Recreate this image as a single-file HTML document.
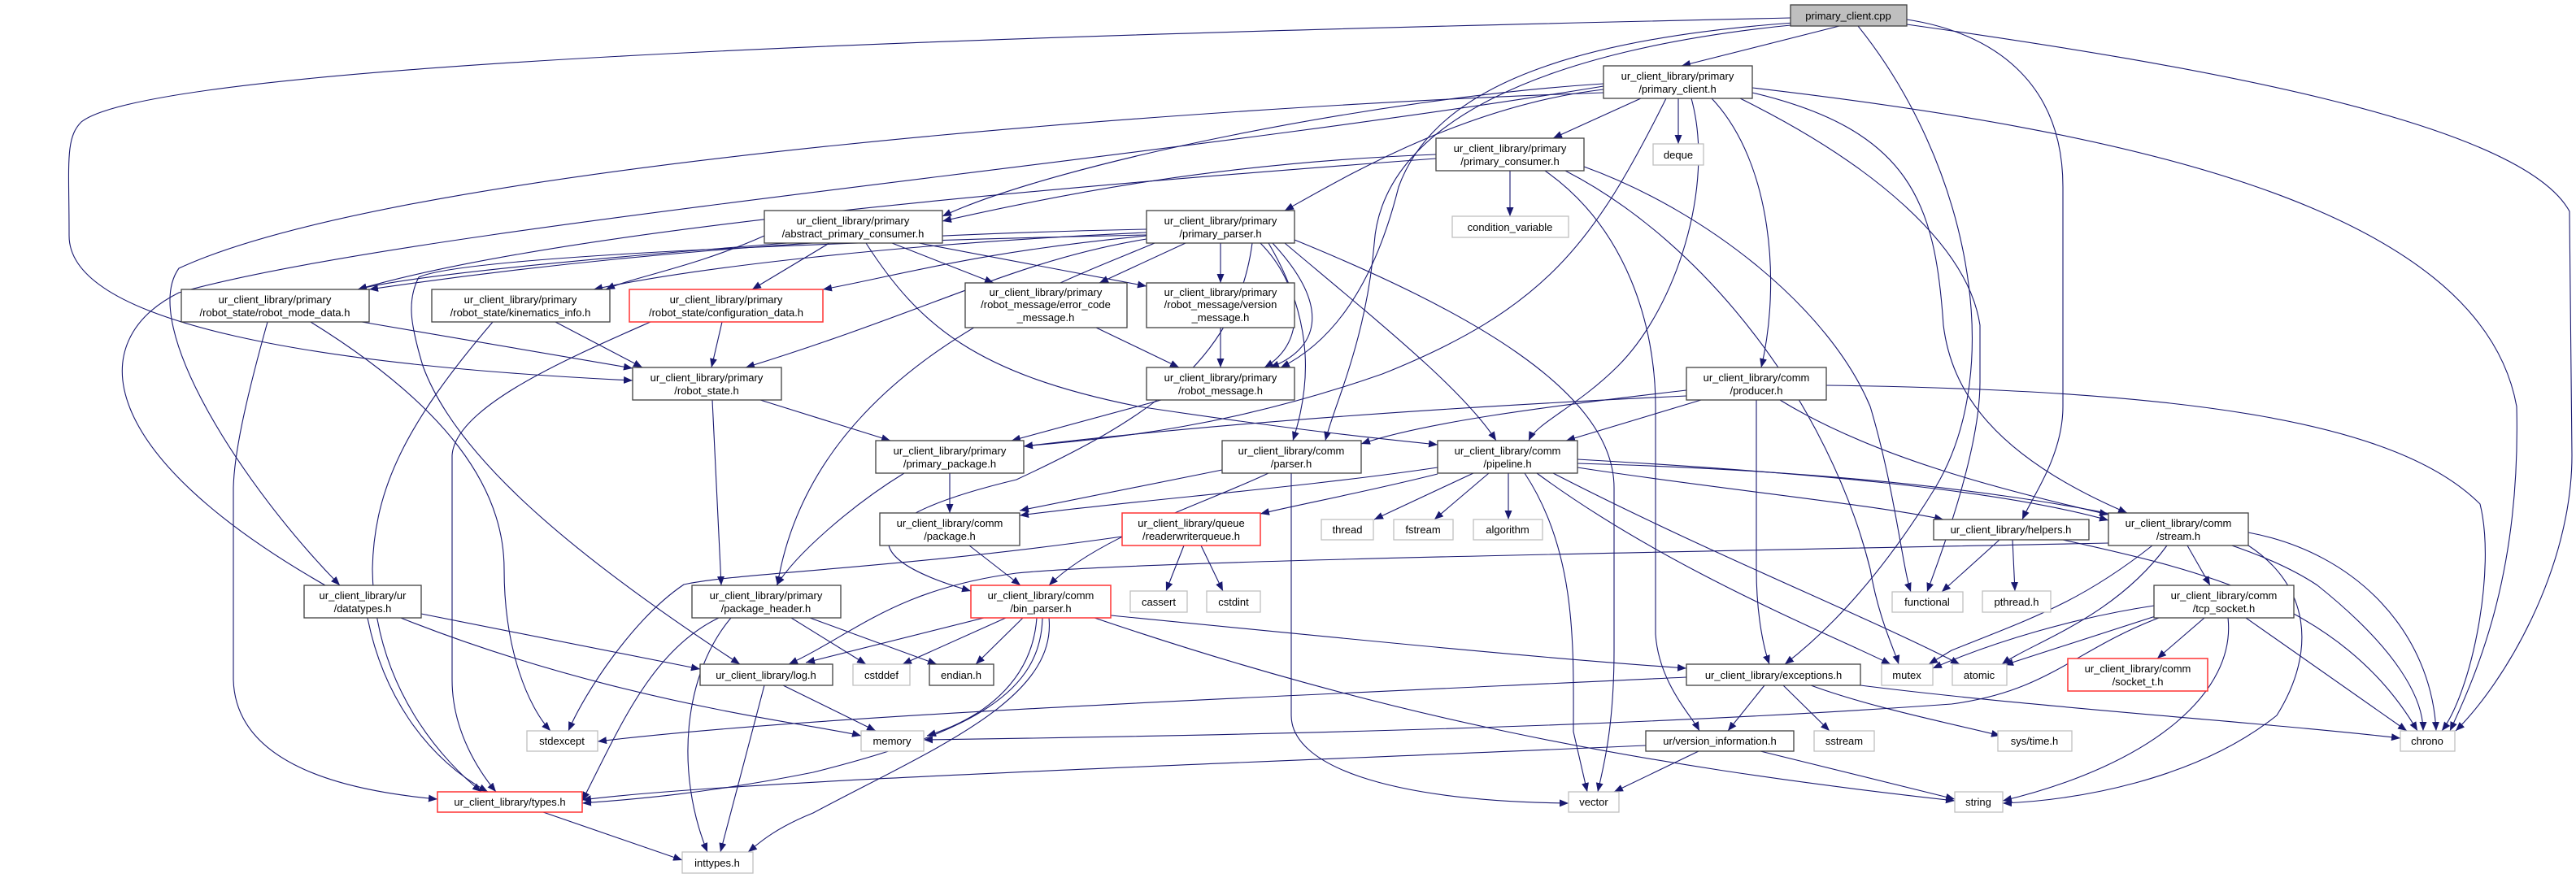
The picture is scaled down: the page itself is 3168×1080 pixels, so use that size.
<!DOCTYPE html>
<html><head><meta charset="utf-8"><style>
html,body{margin:0;padding:0;background:#fff;}
svg{display:block;}
text{font-family:"Liberation Sans",sans-serif;font-size:13px;fill:#000;text-anchor:middle;}
.n{fill:#fff;stroke:#404040;stroke-width:1.3;}
.g{fill:#fff;stroke:#bfbfbf;stroke-width:1.3;}
.r{fill:#fff;stroke:#ff3333;stroke-width:1.5;}
.e path{fill:none;stroke:#191970;stroke-width:1.1;}
</style></head><body>
<svg width="3168" height="1080" viewBox="0 0 3168 1080" xmlns="http://www.w3.org/2000/svg">
<defs><marker id="a" markerUnits="userSpaceOnUse" markerWidth="12" markerHeight="9" refX="11" refY="4.5" orient="auto"><path d="M0,0 L11,4.5 L0,9 z" fill="#191970"/></marker></defs>
<g class="e" marker-end="url(#a)">
<path marker-end="url(#a)" d="M2262,32 L2068,81"/>
<path marker-end="url(#a)" d="M2202,22 C1400,40 200,70 100,150 C80,170 85,200 85,290 C85,400 400,450 778,468"/>
<path marker-end="url(#a)" d="M2206,28 C1900,50 1760,120 1720,230 C1690,350 1640,420 1575,452"/>
<path marker-end="url(#a)" d="M2212,30 C1900,60 1700,150 1690,300 C1680,420 1640,500 1630,542"/>
<path marker-end="url(#a)" d="M2285,32 C2420,200 2470,450 2380,600 C2300,730 2230,790 2195,817"/>
<path marker-end="url(#a)" d="M2345,24 C2450,40 2537,100 2537,230 L2537,500 C2537,560 2500,610 2487,639"/>
<path marker-end="url(#a)" d="M2345,30 C2700,80 3100,150 3160,260 L3163,560 C3163,700 3080,840 3020,899"/>
<path marker-end="url(#a)" d="M2018,121 L1910,170"/>
<path marker-end="url(#a)" d="M2064,121 L2064,177"/>
<path marker-end="url(#a)" d="M1972,103 C1700,120 1300,200 1159,266"/>
<path marker-end="url(#a)" d="M1972,110 C1800,130 1650,220 1580,259"/>
<path marker-end="url(#a)" d="M2105,121 C2180,200 2190,350 2166,452"/>
<path marker-end="url(#a)" d="M2080,121 C2110,230 2060,380 1990,450 C1940,500 1890,520 1880,542"/>
<path marker-end="url(#a)" d="M2049,121 C1960,300 1900,380 1700,460 C1500,530 1350,540 1259,549"/>
<path marker-end="url(#a)" d="M2155,108 C2600,160 3050,250 3095,500 C3100,700 3050,820 3013,899"/>
<path marker-end="url(#a)" d="M2155,114 C2350,160 2380,250 2390,400 C2400,480 2450,560 2616,631"/>
<path marker-end="url(#a)" d="M2140,121 C2300,200 2420,300 2435,400 L2435,470 C2435,560 2380,700 2370,728"/>
<path marker-end="url(#a)" d="M1972,114 C1500,130 500,200 220,330 C170,400 300,600 418,720"/>
<path marker-end="url(#a)" d="M1972,106 C1400,200 500,280 220,360 C100,420 120,560 400,720 C700,860 1000,890 1059,905"/>
<path marker-end="url(#a)" d="M1857,210 L1857,266"/>
<path marker-end="url(#a)" d="M1766,190 C1500,200 1300,240 1159,272"/>
<path marker-end="url(#a)" d="M1766,195 C1300,230 700,280 440,356"/>
<path marker-end="url(#a)" d="M1900,210 C2000,280 2036,400 2036,500 L2036,780 C2040,840 2080,880 2090,899"/>
<path marker-end="url(#a)" d="M1925,210 C2100,300 2250,500 2300,700 C2310,760 2330,800 2335,817"/>
<path marker-end="url(#a)" d="M1948,205 C2100,260 2250,380 2300,500 C2330,600 2340,700 2350,728"/>
<path marker-end="url(#a)" d="M1020,299 L925,356"/>
<path marker-end="url(#a)" d="M968,299 C700,320 500,340 440,356"/>
<path marker-end="url(#a)" d="M940,290 C850,330 780,340 745,356"/>
<path marker-end="url(#a)" d="M1097,299 L1222,348"/>
<path marker-end="url(#a)" d="M1130,299 L1410,352"/>
<path marker-end="url(#a)" d="M1065,299 C1130,400 1200,460 1400,500 C1600,530 1700,540 1768,547"/>
<path marker-end="url(#a)" d="M1458,299 L1352,348"/>
<path marker-end="url(#a)" d="M1501,299 L1501,348"/>
<path marker-end="url(#a)" d="M1550,299 C1600,350 1610,420 1555,452"/>
<path marker-end="url(#a)" d="M1565,299 C1640,380 1620,430 1562,452"/>
<path marker-end="url(#a)" d="M1410,290 C1200,310 1100,340 1012,356"/>
<path marker-end="url(#a)" d="M1410,282 C1000,290 700,320 454,356"/>
<path marker-end="url(#a)" d="M1410,286 C1100,300 850,330 730,356"/>
<path marker-end="url(#a)" d="M1410,294 C1250,320 1150,380 917,452"/>
<path marker-end="url(#a)" d="M1420,299 C1300,350 1000,450 956,720"/>
<path marker-end="url(#a)" d="M1560,299 C1620,400 1610,480 1590,542"/>
<path marker-end="url(#a)" d="M1580,299 C1700,400 1800,480 1840,542"/>
<path marker-end="url(#a)" d="M1540,299 C1520,450 1400,520 1250,590 C1000,650 1100,700 1194,727"/>
<path marker-end="url(#a)" d="M1592,295 C1800,380 1985,480 1985,600 L1985,800 C1985,900 1970,950 1965,974"/>
<path marker-end="url(#a)" d="M1410,289 C900,300 560,320 515,341 C500,370 505,400 520,450 C560,560 700,680 910,817"/>
<path marker-end="url(#a)" d="M1348,403 L1450,452"/>
<path marker-end="url(#a)" d="M1501,403 L1501,452"/>
<path marker-end="url(#a)" d="M1428,492 L1244,542"/>
<path marker-end="url(#a)" d="M935,492 L1095,542"/>
<path marker-end="url(#a)" d="M876,492 L887,720"/>
<path marker-end="url(#a)" d="M888,396 L875,452"/>
<path marker-end="url(#a)" d="M800,396 C700,440 560,500 556,560 L556,836 C556,900 590,950 610,974"/>
<path marker-end="url(#a)" d="M445,396 L778,453"/>
<path marker-end="url(#a)" d="M329,396 C300,500 288,560 287,600 L287,836 C290,950 450,975 538,983"/>
<path marker-end="url(#a)" d="M382,396 C550,500 620,600 620,700 C620,800 650,870 677,899"/>
<path marker-end="url(#a)" d="M683,396 L790,452"/>
<path marker-end="url(#a)" d="M606,396 C500,520 460,600 458,700 C460,850 550,940 592,974"/>
<path marker-end="url(#a)" d="M518,755 L861,823"/>
<path marker-end="url(#a)" d="M452,760 C470,850 520,930 600,974"/>
<path marker-end="url(#a)" d="M1168,582 L1168,631"/>
<path marker-end="url(#a)" d="M1112,582 C1050,620 980,680 955,720"/>
<path marker-end="url(#a)" d="M1192,671 L1255,720"/>
<path marker-end="url(#a)" d="M1456,671 L1434,727"/>
<path marker-end="url(#a)" d="M1477,671 L1504,727"/>
<path marker-end="url(#a)" d="M1380,660 C1100,700 900,705 841,719 C780,760 720,850 699,899"/>
<path marker-end="url(#a)" d="M884,760 C800,800 760,900 716,985"/>
<path marker-end="url(#a)" d="M899,760 C840,830 830,950 870,1048"/>
<path marker-end="url(#a)" d="M973,760 L1065,817"/>
<path marker-end="url(#a)" d="M996,760 L1152,817"/>
<path marker-end="url(#a)" d="M1210,760 L991,815"/>
<path marker-end="url(#a)" d="M1237,760 L1110,817"/>
<path marker-end="url(#a)" d="M1258,760 L1200,817"/>
<path marker-end="url(#a)" d="M1275,760 C1270,830 1220,880 1140,905"/>
<path marker-end="url(#a)" d="M1282,760 C1280,850 1200,900 1000,950 C850,980 750,985 716,988"/>
<path marker-end="url(#a)" d="M1290,760 C1300,860 1150,920 1000,1000 C950,1020 930,1040 920,1048"/>
<path marker-end="url(#a)" d="M1366,757 C1700,790 1900,810 2074,822"/>
<path marker-end="url(#a)" d="M1346,760 C1700,880 2000,940 2404,985"/>
<path marker-end="url(#a)" d="M963,843 L1077,899"/>
<path marker-end="url(#a)" d="M940,843 L886,1048"/>
<path marker-end="url(#a)" d="M1503,578 L1254,628"/>
<path marker-end="url(#a)" d="M1560,582 C1480,620 1350,660 1290,720"/>
<path marker-end="url(#a)" d="M1588,582 L1588,880 C1588,940 1700,985 1929,988"/>
<path marker-end="url(#a)" d="M2074,480 C1900,500 1750,520 1674,546"/>
<path marker-end="url(#a)" d="M2092,492 L1926,542"/>
<path marker-end="url(#a)" d="M2074,487 C1800,500 1500,520 1259,549"/>
<path marker-end="url(#a)" d="M2160,492 L2160,700 C2160,760 2170,800 2176,817"/>
<path marker-end="url(#a)" d="M2189,492 C2300,560 2450,600 2593,633"/>
<path marker-end="url(#a)" d="M2246,474 C2700,480 2950,520 3050,620 C3070,700 3040,850 3003,899"/>
<path marker-end="url(#a)" d="M1768,575 C1600,600 1400,615 1254,634"/>
<path marker-end="url(#a)" d="M1768,583 C1680,605 1600,620 1550,632"/>
<path marker-end="url(#a)" d="M1812,582 L1690,639"/>
<path marker-end="url(#a)" d="M1831,582 L1764,639"/>
<path marker-end="url(#a)" d="M1855,582 L1855,639"/>
<path marker-end="url(#a)" d="M1875,582 C1940,680 1935,800 1935,900 L1952,974"/>
<path marker-end="url(#a)" d="M1940,575 C2100,600 2300,620 2390,639"/>
<path marker-end="url(#a)" d="M1940,565 C2200,580 2450,600 2593,640"/>
<path marker-end="url(#a)" d="M1890,582 C2050,700 2250,780 2325,817"/>
<path marker-end="url(#a)" d="M1910,582 C2100,680 2300,760 2410,817"/>
<path marker-end="url(#a)" d="M1940,570 C2300,580 2700,620 2850,720 C2950,800 2980,860 2980,899"/>
<path marker-end="url(#a)" d="M2593,668 C2000,680 1400,690 1250,705 C1100,725 1050,780 970,817"/>
<path marker-end="url(#a)" d="M2459,664 L2388,728"/>
<path marker-end="url(#a)" d="M2475,664 L2478,727"/>
<path marker-end="url(#a)" d="M2537,664 C2700,700 2880,740 2973,899"/>
<path marker-end="url(#a)" d="M2690,671 L2718,720"/>
<path marker-end="url(#a)" d="M2647,671 C2560,740 2500,760 2400,800 L2372,817"/>
<path marker-end="url(#a)" d="M2665,671 C2600,760 2500,790 2462,817"/>
<path marker-end="url(#a)" d="M2765,655 C2900,680 2990,780 2996,899"/>
<path marker-end="url(#a)" d="M2765,671 C2840,720 2850,800 2800,880 C2700,960 2550,985 2463,988"/>
<path marker-end="url(#a)" d="M2660,755 L2465,818"/>
<path marker-end="url(#a)" d="M2649,745 C2550,760 2450,790 2377,822"/>
<path marker-end="url(#a)" d="M2711,760 L2653,810"/>
<path marker-end="url(#a)" d="M2762,760 L2960,899"/>
<path marker-end="url(#a)" d="M2740,760 C2750,850 2650,940 2463,985"/>
<path marker-end="url(#a)" d="M2655,760 C2550,800 2520,850 2400,866 C2000,895 1500,905 1136,910"/>
<path marker-end="url(#a)" d="M2170,843 L2125,899"/>
<path marker-end="url(#a)" d="M2193,843 L2250,899"/>
<path marker-end="url(#a)" d="M2074,833 C1500,860 1000,880 735,912"/>
<path marker-end="url(#a)" d="M2227,843 C2300,870 2400,890 2460,905"/>
<path marker-end="url(#a)" d="M2288,843 C2500,870 2800,890 2952,908"/>
<path marker-end="url(#a)" d="M2024,917 C1500,940 900,960 716,984"/>
<path marker-end="url(#a)" d="M2089,924 L1985,974"/>
<path marker-end="url(#a)" d="M2165,924 L2404,983"/>
<path marker-end="url(#a)" d="M668,999 L839,1058"/>
</g>
<g>
<rect x="2202" y="6" width="143" height="26" fill="#bfbfbf" stroke="#404040" stroke-width="1.3"/><text x="2273" y="24">primary_client.cpp</text>
<rect class="n" x="1972" y="81" width="183" height="40"/><text x="2063" y="98">ur_client_library/primary</text><text x="2063" y="114">/primary_client.h</text>
<rect class="n" x="1766" y="170" width="182" height="40"/><text x="1857" y="187">ur_client_library/primary</text><text x="1857" y="203">/primary_consumer.h</text>
<rect class="g" x="2033" y="177" width="62" height="26"/><text x="2064" y="195">deque</text>
<rect class="g" x="1786" y="266" width="143" height="26"/><text x="1857" y="284">condition_variable</text>
<rect class="n" x="2074" y="452" width="172" height="40"/><text x="2160" y="469">ur_client_library/comm</text><text x="2160" y="485">/producer.h</text>
<rect class="n" x="940" y="259" width="219" height="40"/><text x="1049" y="276">ur_client_library/primary</text><text x="1049" y="292">/abstract_primary_consumer.h</text>
<rect class="n" x="1410" y="259" width="182" height="40"/><text x="1501" y="276">ur_client_library/primary</text><text x="1501" y="292">/primary_parser.h</text>
<rect class="n" x="1187" y="348" width="199" height="55"/><text x="1286" y="364">ur_client_library/primary</text><text x="1286" y="379">/robot_message/error_code</text><text x="1286" y="395">_message.h</text>
<rect class="n" x="1410" y="348" width="182" height="55"/><text x="1501" y="364">ur_client_library/primary</text><text x="1501" y="379">/robot_message/version</text><text x="1501" y="395">_message.h</text>
<rect class="n" x="1410" y="452" width="182" height="40"/><text x="1501" y="469">ur_client_library/primary</text><text x="1501" y="485">/robot_message.h</text>
<rect class="n" x="778" y="452" width="183" height="40"/><text x="869" y="469">ur_client_library/primary</text><text x="869" y="485">/robot_state.h</text>
<rect class="r" x="774" y="356" width="238" height="40"/><text x="893" y="373">ur_client_library/primary</text><text x="893" y="389">/robot_state/configuration_data.h</text>
<rect class="n" x="223" y="356" width="231" height="40"/><text x="338" y="373">ur_client_library/primary</text><text x="338" y="389">/robot_state/robot_mode_data.h</text>
<rect class="n" x="531" y="356" width="219" height="40"/><text x="640" y="373">ur_client_library/primary</text><text x="640" y="389">/robot_state/kinematics_info.h</text>
<rect class="n" x="374" y="720" width="144" height="40"/><text x="446" y="737">ur_client_library/ur</text><text x="446" y="753">/datatypes.h</text>
<rect class="g" x="648" y="899" width="87" height="25"/><text x="691" y="916">stdexcept</text>
<rect class="r" x="538" y="974" width="178" height="25"/><text x="627" y="991">ur_client_library/types.h</text>
<rect class="n" x="1077" y="542" width="182" height="40"/><text x="1168" y="559">ur_client_library/primary</text><text x="1168" y="575">/primary_package.h</text>
<rect class="n" x="1082" y="631" width="172" height="40"/><text x="1168" y="648">ur_client_library/comm</text><text x="1168" y="664">/package.h</text>
<rect class="r" x="1380" y="631" width="170" height="40"/><text x="1465" y="648">ur_client_library/queue</text><text x="1465" y="664">/readerwriterqueue.h</text>
<rect class="n" x="851" y="720" width="183" height="40"/><text x="942" y="737">ur_client_library/primary</text><text x="942" y="753">/package_header.h</text>
<rect class="r" x="1194" y="720" width="172" height="40"/><text x="1280" y="737">ur_client_library/comm</text><text x="1280" y="753">/bin_parser.h</text>
<rect class="g" x="1390" y="727" width="70" height="26"/><text x="1425" y="745">cassert</text>
<rect class="g" x="1484" y="727" width="66" height="26"/><text x="1517" y="745">cstdint</text>
<rect class="n" x="861" y="817" width="163" height="26"/><text x="942" y="835">ur_client_library/log.h</text>
<rect class="g" x="1049" y="817" width="70" height="26"/><text x="1084" y="835">cstddef</text>
<rect class="n" x="1143" y="817" width="79" height="26"/><text x="1182" y="835">endian.h</text>
<rect class="g" x="1059" y="899" width="77" height="25"/><text x="1097" y="916">memory</text>
<rect class="g" x="839" y="1048" width="87" height="26"/><text x="882" y="1066">inttypes.h</text>
<rect class="n" x="1503" y="542" width="171" height="40"/><text x="1588" y="559">ur_client_library/comm</text><text x="1588" y="575">/parser.h</text>
<rect class="n" x="1768" y="542" width="172" height="40"/><text x="1854" y="559">ur_client_library/comm</text><text x="1854" y="575">/pipeline.h</text>
<rect class="g" x="1625" y="639" width="64" height="25"/><text x="1657" y="656">thread</text>
<rect class="g" x="1714" y="639" width="73" height="25"/><text x="1750" y="656">fstream</text>
<rect class="g" x="1812" y="639" width="85" height="25"/><text x="1854" y="656">algorithm</text>
<rect class="n" x="2378" y="639" width="191" height="25"/><text x="2473" y="656">ur_client_library/helpers.h</text>
<rect class="g" x="2327" y="728" width="87" height="25"/><text x="2370" y="745">functional</text>
<rect class="n" x="2074" y="817" width="214" height="26"/><text x="2181" y="835">ur_client_library/exceptions.h</text>
<rect class="g" x="2314" y="817" width="63" height="26"/><text x="2345" y="835">mutex</text>
<rect class="n" x="2024" y="899" width="182" height="25"/><text x="2115" y="916">ur/version_information.h</text>
<rect class="g" x="2231" y="899" width="74" height="25"/><text x="2268" y="916">sstream</text>
<rect class="g" x="1929" y="974" width="62" height="25"/><text x="1960" y="991">vector</text>
<rect class="n" x="2593" y="631" width="172" height="40"/><text x="2679" y="648">ur_client_library/comm</text><text x="2679" y="664">/stream.h</text>
<rect class="g" x="2438" y="727" width="84" height="26"/><text x="2480" y="745">pthread.h</text>
<rect class="n" x="2649" y="720" width="172" height="40"/><text x="2735" y="737">ur_client_library/comm</text><text x="2735" y="753">/tcp_socket.h</text>
<rect class="g" x="2401" y="817" width="67" height="26"/><text x="2434" y="835">atomic</text>
<rect class="r" x="2543" y="810" width="172" height="40"/><text x="2629" y="827">ur_client_library/comm</text><text x="2629" y="843">/socket_t.h</text>
<rect class="g" x="2457" y="899" width="91" height="25"/><text x="2502" y="916">sys/time.h</text>
<rect class="g" x="2952" y="899" width="67" height="25"/><text x="2985" y="916">chrono</text>
<rect class="g" x="2404" y="974" width="59" height="25"/><text x="2433" y="991">string</text>
</g>
</svg>
</body></html>
